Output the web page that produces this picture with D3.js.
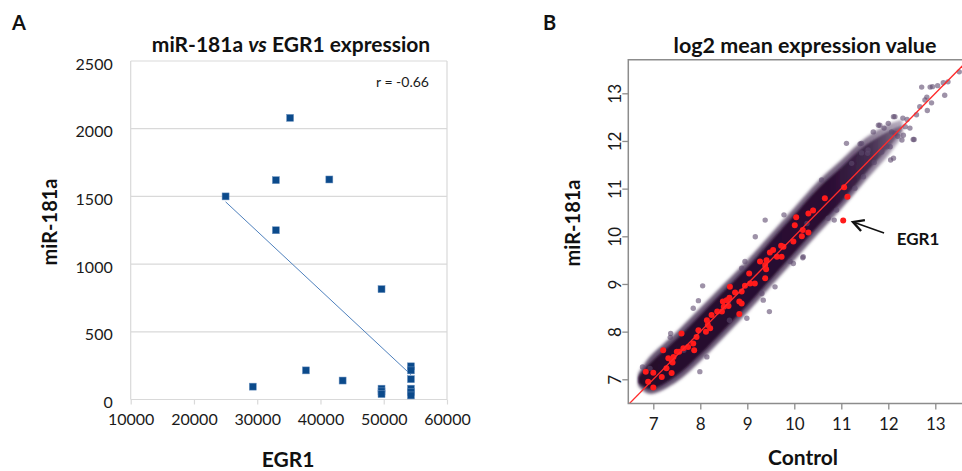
<!DOCTYPE html>
<html><head><meta charset="utf-8">
<script src="https://cdn.jsdelivr.net/npm/d3@7"></script>
<style>
html,body{margin:0;padding:0;background:#fff;}
svg{display:block;font-family:Lato,"Open Sans",sans-serif;}
</style></head>
<body>
<svg id="chart" width="962" height="471"></svg>
<script>
// ---------- Panel A data ----------
const egr1Values   = [25000, 35200, 32950, 41400, 32950, 49650, 29300, 37700, 43500, 49650, 49650, 49650, 54300, 54300, 54300, 54300, 54300, 54300];
const mir181aValues= [1500, 2080, 1620, 1625, 1250, 815, 95, 215, 140, 80, 60, 40, 245, 215, 150, 80, 55, 30];
const trendX = [25000, 54300];
const trendY = [1460, 183];
const aXTicks = [10000, 20000, 30000, 40000, 50000, 60000];
const aYTicks = [0, 500, 1000, 1500, 2000, 2500];
const rLabel = "r = -0.66";

// ---------- Panel B data ----------
const bTicks = [7, 8, 9, 10, 11, 12, 13];
// density band of the gene cloud (control value -> miR-181a range)
const bandX  = [6.68, 6.85, 7.0, 7.5, 8.0, 8.5, 9.0, 9.5, 10.0, 10.5, 11.0, 11.5, 12.0, 12.3];
const fuzzHi = [7.12, 7.38, 7.55, 8.0, 8.5, 9.0, 9.5, 10.05, 10.6, 11.15, 11.6, 12.05, 12.35, 12.45];
const coreHi = [7.05, 7.25, 7.4, 7.85, 8.35, 8.85, 9.35, 9.9, 10.45, 11.0, 11.45, 11.9, 12.2, 12.33];
const coreLo = [6.92, 6.82, 6.8, 7.08, 7.52, 8.03, 8.55, 9.1, 9.65, 10.2, 10.72, 11.3, 11.85, 12.22];
const fuzzLo = [6.86, 6.72, 6.7, 6.95, 7.38, 7.88, 8.4, 8.95, 9.5, 10.05, 10.58, 11.15, 11.7, 12.1];
// scattered grey-purple genes
const outX = [8.05, 9.47, 9.17, 7.99, 7.37, 10.58, 11.4, 12.53, 12.11, 12.0, 12.78, 12.89, 12.71, 13.2, 13.17, 13.51, 10.18, 10.85, 10.72, 9.38, 9.91, 9.78, 12.31, 12.14, 12.05, 12.46, 11.91, 11.86, 11.43, 11.56, 8.62, 8.6, 9.38, 9.98, 7.65, 6.77, 12.92, 12.82, 12.83, 12.67, 11.79, 11.68, 12.07, 12.29, 12.55, 12.36, 11.43, 11.57, 12.04, 12.94, 13.05, 13.27, 12.2, 11.95,
  7.96, 7.85, 7.36, 8.95, 8.88, 9.34, 9.59, 9.31, 8.99, 8.14, 6.93, 10.27, 10.19, 11.82, 12.14, 12.32, 12.11, 11.47, 11.29, 11.22, 11.11, 11.97, 10.9, 10.4, 12.4, 12.6, 11.7];
const outY = [8.96, 8.42, 9.99, 7.16, 7.96, 11.18, 11.94, 12.03, 12.51, 12.37, 12.86, 13.13, 13.13, 12.96, 13.22, 13.45, 9.55, 10.34, 10.38, 10.34, 9.47, 10.45, 12.48, 12.16, 11.6, 12.27, 12.27, 11.77, 11.75, 11.74, 8.24, 8.63, 9.36, 9.43, 7.61, 7.26, 12.8, 12.92, 12.64, 12.72, 12.33, 12.19, 12.19, 12.02, 12.03, 12.3, 11.95, 11.81, 11.88, 13.14, 13.16, 13.24, 12.1, 11.9,
  8.65, 8.49, 7.88, 9.47, 9.33, 8.66, 8.94, 8.8, 8.28, 7.47, 7.23, 10.27, 9.57, 12.33, 12.51, 12.12, 11.64, 11.25, 11.01, 11.53, 11.95, 11.88, 10.55, 10.55, 12.45, 12.55, 11.55];
// red highlighted genes
const redX = [11.13, 11.06, 10.65, 10.4, 10.3, 10.04, 10.01, 10.18, 10.3, 10.16, 9.98, 9.77, 9.72, 9.55, 9.48, 9.63, 9.73, 9.41, 9.27, 9.38, 9.4, 9.38, 9.16, 9.06, 8.95, 8.88, 8.74, 8.62, 8.56, 8.48, 8.5, 8.6, 8.36, 8.46, 8.83, 8.88, 8.83, 8.63, 8.24, 8.14, 8.16, 8.21, 8.12, 7.96, 7.92, 7.85, 7.87, 7.74, 7.64, 7.6, 7.55, 7.5, 7.43, 7.39, 7.41, 7.32, 7.21, 7.28, 7.18, 7.0, 6.84, 6.89, 7.0, 7.39, 9.04];
const redY = [10.83, 11.03, 10.8, 10.54, 10.48, 10.4, 10.23, 10.13, 10.08, 10.0, 9.89, 9.78, 9.8, 9.71, 9.66, 9.57, 9.57, 9.5, 9.47, 9.4, 9.31, 9.12, 9.01, 9.01, 8.96, 8.84, 8.82, 8.71, 8.66, 8.63, 8.52, 8.54, 8.42, 8.42, 8.63, 8.59, 8.37, 8.94, 8.35, 8.24, 8.14, 8.07, 8.0, 8.03, 7.89, 7.75, 7.61, 7.68, 7.65, 7.96, 7.58, 7.58, 7.47, 7.4, 7.35, 7.44, 7.61, 7.23, 7.05, 7.14, 7.16, 6.95, 6.83, 7.13, 9.22];
const egr1Point = {x: 11.04, y: 10.33, label: "EGR1"};
const arrowFrom = {x: 11.91, y: 10.07};
const arrowTo   = {x: 11.25, y: 10.30};

const svg = d3.select("#chart");
const defs = svg.append("defs");

// ================= Panel A =================
const xA = d3.scaleLinear().domain([10000, 60000]).range([130.7, 447]);
const yA = d3.scaleLinear().domain([0, 2500]).range([399.5, 61]);
const gA = svg.append("g");

gA.append("text").attr("x", 12).attr("y", 30).attr("font-size", 20).attr("font-weight", "bold").attr("fill", "#111").text("A");

gA.append("text").attr("x", 291).attr("y", 52).attr("text-anchor", "middle")
  .attr("font-size", 21).attr("font-weight", "bold").attr("fill", "#111")
  .call(t => {
    t.append("tspan").text("miR-181a ");
    t.append("tspan").attr("font-style", "italic").text("vs");
    t.append("tspan").text(" EGR1 expression");
  });

// grid
gA.append("g").selectAll("line").data(aYTicks).join("line")
  .attr("x1", xA(10000)).attr("x2", xA(60000))
  .attr("y1", d => yA(d)).attr("y2", d => yA(d))
  .attr("stroke", "#d9d9d9").attr("stroke-width", 1.2);
gA.append("line").attr("x1", xA(10000)).attr("x2", xA(10000)).attr("y1", yA(0)).attr("y2", yA(2500)).attr("stroke", "#d9d9d9").attr("stroke-width", 1.2);
gA.append("line").attr("x1", xA(60000)).attr("x2", xA(60000)).attr("y1", yA(0)).attr("y2", yA(2500)).attr("stroke", "#d9d9d9").attr("stroke-width", 1.2);

// x axis
const axA = d3.axisBottom(xA).tickValues(aXTicks).tickSize(5).tickPadding(9).tickFormat(d3.format("d"));
gA.append("g").attr("transform", `translate(0,${yA(0)})`).call(axA)
  .call(g => g.select(".domain").remove())
  .call(g => g.selectAll(".tick line").attr("stroke", "#d9d9d9").attr("stroke-width", 1.2))
  .call(g => g.selectAll(".tick text").attr("font-size", 16).attr("fill", "#1a1a1a").attr("font-family", "Lato"));

// y axis
const ayA = d3.axisLeft(yA).tickValues(aYTicks).tickSize(0).tickPadding(18).tickFormat(d3.format("d"));
gA.append("g").attr("transform", `translate(${xA(10000)},0)`).call(ayA)
  .call(g => g.select(".domain").remove())
  .call(g => g.selectAll(".tick text").attr("font-size", 16).attr("fill", "#1a1a1a").attr("font-family", "Lato").attr("dy", "0.5em"));

// trend line
gA.append("line").attr("x1", xA(trendX[0])).attr("y1", yA(trendY[0]))
  .attr("x2", xA(trendX[1])).attr("y2", yA(trendY[1]))
  .attr("stroke", "#4f81bd").attr("stroke-width", 1);

// markers
const ms = 7;
gA.append("g").selectAll("rect").data(egr1Values.map((v, i) => [v, mir181aValues[i]])).join("rect")
  .attr("x", d => xA(d[0]) - ms / 2).attr("y", d => yA(d[1]) - ms / 2)
  .attr("width", ms).attr("height", ms)
  .attr("fill", "#0b4a8b").attr("stroke", "#6f93c0").attr("stroke-width", 0.5);

gA.append("text").attr("x", 429).attr("y", 87).attr("text-anchor", "end")
  .attr("font-size", 14).attr("fill", "#1a1a1a").text(rLabel);

gA.append("text").attr("x", 288).attr("y", 467).attr("text-anchor", "middle")
  .attr("font-size", 21).attr("font-weight", "bold").attr("fill", "#111").text("EGR1");
gA.append("text").attr("transform", "translate(57,222) rotate(-90)").attr("text-anchor", "middle")
  .attr("font-size", 20).attr("font-weight", "bold").attr("fill", "#111").text("miR-181a");

// ================= Panel B =================
const xB = d3.scaleLinear().domain([7, 13]).range([653.3, 935.3]);
const yB = d3.scaleLinear().domain([7, 13]).range([379.3, 93.3]);
const bLeft = xB(6.468), bRight = 962, bTop = yB(13.705), bBottom = yB(6.49);
const gB = svg.append("g");

gB.append("text").attr("x", 543).attr("y", 30).attr("font-size", 20).attr("font-weight", "bold").attr("fill", "#111").text("B");
gB.append("text").attr("x", 805).attr("y", 53).attr("text-anchor", "middle")
  .attr("font-size", 21.5).attr("font-weight", "bold").attr("fill", "#111").text("log2 mean expression value");

defs.append("clipPath").attr("id", "clipB").append("rect")
  .attr("x", bLeft).attr("y", bTop).attr("width", bRight - bLeft).attr("height", bBottom - bTop);
const blur = defs.append("filter").attr("id", "fuzz").attr("x", "-20%").attr("y", "-20%").attr("width", "140%").attr("height", "140%");
blur.append("feGaussianBlur").attr("stdDeviation", 1.6);
const blur2 = defs.append("filter").attr("id", "fuzz2").attr("x", "-20%").attr("y", "-20%").attr("width", "140%").attr("height", "140%");
blur2.append("feGaussianBlur").attr("stdDeviation", 1.0);

const grad = defs.append("linearGradient").attr("id", "coreGrad").attr("gradientUnits", "userSpaceOnUse")
  .attr("x1", xB(6.7)).attr("x2", xB(12.3)).attr("y1", 0).attr("y2", 0);
grad.append("stop").attr("offset", "0%").attr("stop-color", "#25082c").attr("stop-opacity", 1);
grad.append("stop").attr("offset", "72%").attr("stop-color", "#2a0c33").attr("stop-opacity", 1);
grad.append("stop").attr("offset", "88%").attr("stop-color", "#3a2346").attr("stop-opacity", 0.85);
grad.append("stop").attr("offset", "100%").attr("stop-color", "#56405f").attr("stop-opacity", 0.55);

const grad2 = defs.append("linearGradient").attr("id", "fuzzGrad").attr("gradientUnits", "userSpaceOnUse")
  .attr("x1", xB(6.7)).attr("x2", xB(12.45)).attr("y1", 0).attr("y2", 0);
grad2.append("stop").attr("offset", "0%").attr("stop-color", "#4a3558").attr("stop-opacity", 0.85);
grad2.append("stop").attr("offset", "80%").attr("stop-color", "#554062").attr("stop-opacity", 0.8);
grad2.append("stop").attr("offset", "100%").attr("stop-color", "#7a6888").attr("stop-opacity", 0.5);

const plotB = gB.append("g").attr("clip-path", "url(#clipB)");
const bandData = bandX.map((x, i) => ({x, fl: fuzzLo[i], fh: fuzzHi[i], cl: coreLo[i], ch: coreHi[i]}));
const areaFuzz = d3.area().curve(d3.curveCatmullRom).x(d => xB(d.x)).y0(d => yB(d.fl)).y1(d => yB(d.fh));
const areaCore = d3.area().curve(d3.curveCatmullRom).x(d => xB(d.x)).y0(d => yB(d.cl)).y1(d => yB(d.ch));
plotB.append("path").datum(bandData).attr("d", areaFuzz).attr("fill", "url(#fuzzGrad)").attr("filter", "url(#fuzz)");
plotB.append("path").datum(bandData).attr("d", areaCore).attr("fill", "url(#coreGrad)").attr("filter", "url(#fuzz2)");

plotB.append("g").selectAll("circle").data(outX.map((x, i) => [x, outY[i]])).join("circle")
  .attr("cx", d => xB(d[0])).attr("cy", d => yB(d[1])).attr("r", 2.7)
  .attr("fill", "#5e4a6e").attr("opacity", 0.6);

plotB.append("g").selectAll("circle").data(redX.map((x, i) => [x, redY[i]])).join("circle")
  .attr("cx", d => xB(d[0])).attr("cy", d => yB(d[1])).attr("r", 3)
  .attr("fill", "#ff1a1a");
plotB.append("circle").attr("cx", xB(egr1Point.x)).attr("cy", yB(egr1Point.y)).attr("r", 3).attr("fill", "#ff1a1a");

// identity line
plotB.append("line").attr("x1", xB(6.4)).attr("y1", yB(6.4)).attr("x2", xB(14)).attr("y2", yB(14))
  .attr("stroke", "#ff2a2a").attr("stroke-width", 1.3);

// frame
gB.append("path").attr("d", `M${bRight},${bTop}H${bLeft}V${bBottom}H${bRight}`)
  .attr("fill", "none").attr("stroke", "#8c8c8c").attr("stroke-width", 1.5);

const axB = d3.axisBottom(xB).tickValues(bTicks).tickSize(6).tickPadding(8).tickFormat(d3.format("d"));
gB.append("g").attr("transform", `translate(0,${bBottom})`).call(axB)
  .call(g => g.select(".domain").remove())
  .call(g => g.selectAll(".tick line").attr("stroke", "#8c8c8c").attr("stroke-width", 1.3))
  .call(g => g.selectAll(".tick text").attr("font-size", 17).attr("fill", "#1a1a1a").attr("font-family", "Lato"));

const ayB = d3.axisLeft(yB).tickValues(bTicks).tickSize(6).tickFormat(d3.format("d"));
gB.append("g").attr("transform", `translate(${bLeft},0)`).call(ayB)
  .call(g => g.select(".domain").remove())
  .call(g => g.selectAll(".tick line").attr("stroke", "#8c8c8c").attr("stroke-width", 1.3))
  .call(g => g.selectAll(".tick text").attr("font-size", 17).attr("fill", "#1a1a1a").attr("font-family", "Lato")
    .attr("x", null).attr("dy", null).attr("text-anchor", "middle")
    .attr("transform", "translate(-13,0) rotate(-90)").attr("y", 0).attr("dy", "0.35em"));

// arrow annotation
const ax1 = xB(arrowFrom.x), ay1 = yB(arrowFrom.y), ax2 = xB(arrowTo.x), ay2 = yB(arrowTo.y);
const ang = Math.atan2(ay2 - ay1, ax2 - ax1);
const hl = 12, ha = 0.5;
gB.append("line").attr("x1", ax1).attr("y1", ay1).attr("x2", ax2).attr("y2", ay2).attr("stroke", "#111").attr("stroke-width", 1.5);
gB.append("path").attr("d", `M${ax2 - hl * Math.cos(ang - ha)},${ay2 - hl * Math.sin(ang - ha)}L${ax2},${ay2}L${ax2 - hl * Math.cos(ang + ha)},${ay2 - hl * Math.sin(ang + ha)}`)
  .attr("fill", "none").attr("stroke", "#111").attr("stroke-width", 2.4).attr("stroke-linejoin", "miter");
gB.append("text").attr("x", xB(12.18)).attr("y", yB(egr1Point.y) + 24).attr("font-size", 17).attr("font-weight", "bold").attr("fill", "#111").text(egr1Point.label);

gB.append("text").attr("x", 803).attr("y", 465).attr("text-anchor", "middle")
  .attr("font-size", 21).attr("font-weight", "bold").attr("fill", "#111").text("Control");
gB.append("text").attr("transform", "translate(580,223) rotate(-90)").attr("text-anchor", "middle")
  .attr("font-size", 20).attr("font-weight", "bold").attr("fill", "#111").text("miR-181a");
</script>
</body></html>
